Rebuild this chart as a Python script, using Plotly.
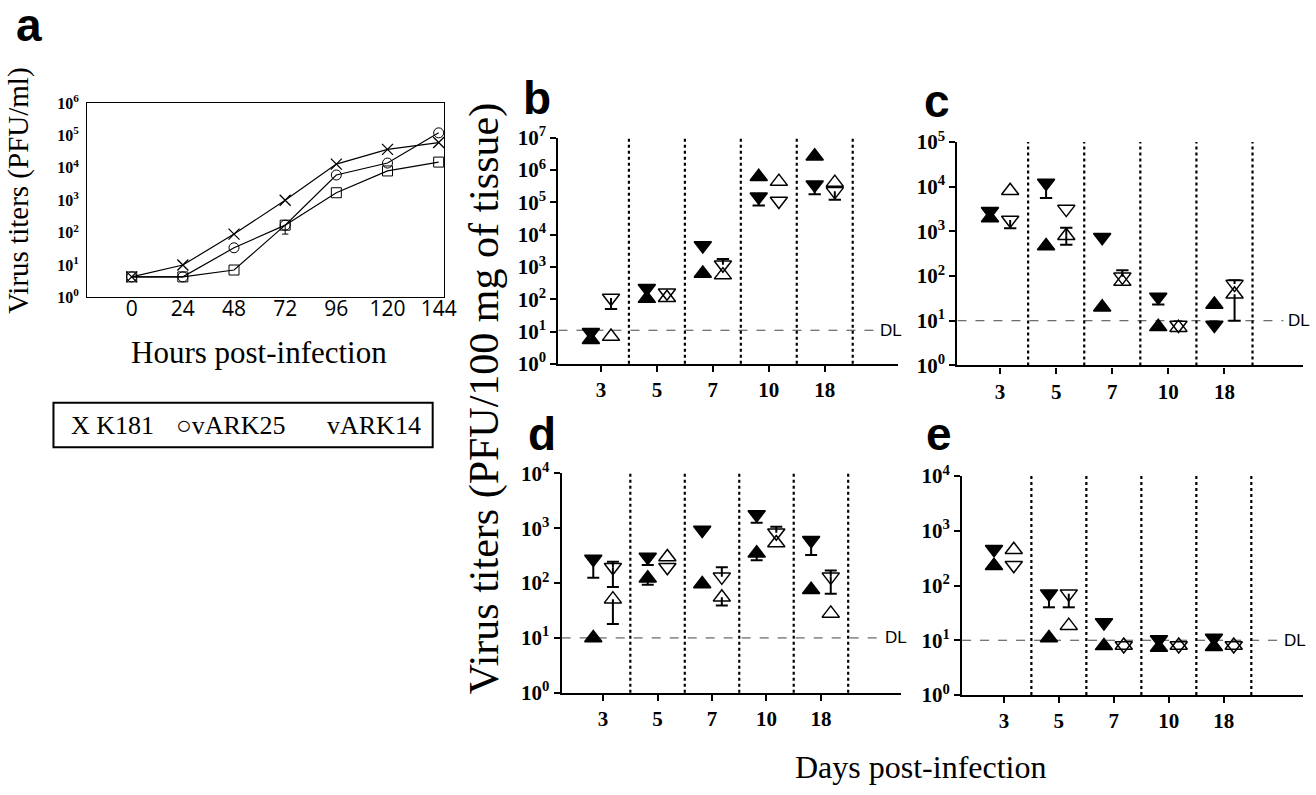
import math
import plotly.graph_objects as go

# ---------------- data ----------------
HOURS = [0, 24, 48, 72, 96, 120, 144]
K181 = [4.3, 10, 90, 1000, 13000, 37000, 60000]
VARK25 = [4.3, 4.3, 34, 170, 6000, 14000, 120000]
VARK14 = [4.3, 4.3, 7, 170, 1700, 8000, 15000]
VARK14_LO = [None, None, None, 90, None, None, None]

DAYS = ["3", "5", "7", "10", "18"]

# panel b (filled = left group, open = right group)
B_UP_F = [5.6, 105, 630, 620000, 2700000]
B_DN_F = [9.5, 220, 4600, 150000, 350000]
B_UP_O = [7, 112, 560, 440000, 410000]
B_DN_O = [110, 160, 1175, 110000, 220000]
B_DN_F_LO = [None, None, None, 80000, 180000]
B_DN_O_LO = [50, None, None, None, 120000]
B_DN_O_HI = [None, None, 1780, None, None]
B_DL = 11

# panel c
C_UP_F = [2000, 470, 20, 7.3, 23]
C_DN_F = [2800, 12000, 740, 34, 8]
C_UP_O = [8100, 800, 75, 7, 39]
C_DN_O = [1800, 3150, 96, 8, 66]
C_DN_F_LO = [None, 5600, None, 23, None]
C_UP_O_LO = [None, 500, None, None, 10]
C_UP_O_HI = [None, 1200, None, None, None]
C_DN_O_LO = [1170, None, None, None, None]
C_DN_O_HI = [None, None, 135, None, 81]
C_DL = 10

# panel d
D_UP_F = [10, 123, 96, 350, 76]
D_DN_F = [275, 300, 930, 1780, 605]
D_UP_O = [51, 300, 55, 540, 28]
D_DN_O = [195, 195, 130, 830, 130]
D_DN_F_LO = [125, 215, None, 1260, 325]
D_UP_F_LO = [None, 93, None, 260, None]
D_UP_O_LO = [18, None, 39, None, None]
D_DN_O_LO = [85, None, None, None, 64]
D_DN_O_HI = [245, None, 195, 1070, 170]
D_DL = 10

# panel e
E_UP_F = [230, 11, 7.9, 7.4, 7.6]
E_DN_F = [460, 71, 21, 10.3, 11]
E_UP_O = [450, 18.5, 8, 8, 8]
E_DN_O = [235, 71, 8, 8, 8]
E_DN_F_LO = [None, 40, None, None, None]
E_DN_O_LO = [None, 40, None, None, None]
E_DL = 10

# ---------------- layout helpers ----------------
W, H = 1316, 795


def xd(a, b):
    return [a / W, min(b / W, 1.0)]


def yd(top, bottom):
    return [1 - bottom / H, 1 - top / H]


SERIF = "Liberation Serif"
SANS = "Liberation Sans"
OFF = 0.18
CAP = 0.11

fig = go.Figure()

# ---------------- panel a ----------------
line_style = dict(color="black", width=1.2)
fig.add_trace(go.Scatter(x=HOURS, y=K181, mode="lines+markers", line=line_style,
                         marker=dict(symbol="x-thin-open", size=11, color="black",
                                     line=dict(color="black", width=1.3)),
                         xaxis="x", yaxis="y", showlegend=False, cliponaxis=False))
fig.add_trace(go.Scatter(x=HOURS, y=VARK25, mode="lines+markers", line=line_style,
                         marker=dict(symbol="circle-open", size=10, color="black",
                                     line=dict(color="black", width=1)),
                         xaxis="x", yaxis="y", showlegend=False, cliponaxis=False))
fig.add_trace(go.Scatter(x=HOURS, y=VARK14, mode="lines+markers", line=line_style,
                         marker=dict(symbol="square-open", size=10, color="black",
                                     line=dict(color="black", width=1)),
                         xaxis="x", yaxis="y", showlegend=False, cliponaxis=False))
ex, ey = [], []
for h, v, lo in zip(HOURS, VARK14, VARK14_LO):
    if lo is not None:
        ex += [h, h, None, h - 1.5, h + 1.5, None]
        ey += [v, lo, None, lo, lo, None]
fig.add_trace(go.Scatter(x=ex, y=ey, mode="lines", line=dict(color="black", width=1),
                         xaxis="x", yaxis="y", showlegend=False, hoverinfo="skip"))


# ---------------- panels b-e ----------------
def add_panel(n, up_f, dn_f, up_o, dn_o, bars, dl, dl_end):
    xa, ya = f"x{n}", f"y{n}"
    idx = list(range(len(DAYS)))
    specs = [
        (up_f, -OFF, "triangle-up"),
        (dn_f, -OFF, "triangle-down"),
        (up_o, OFF, "triangle-up-open"),
        (dn_o, OFF, "triangle-down-open"),
    ]
    fig.add_trace(go.Scatter(x=[-0.76, dl_end], y=[dl, dl], mode="lines",
                             line=dict(color="#444", width=1, dash="dash"),
                             xaxis=xa, yaxis=ya, showlegend=False, hoverinfo="skip",
                             cliponaxis=False))
    for vals, off, sym in specs:
        fig.add_trace(go.Scatter(
            x=[i + off for i in idx], y=vals, mode="markers",
            marker=dict(symbol=sym, size=15, color="black",
                        line=dict(color="black", width=1.5)),
            xaxis=xa, yaxis=ya, showlegend=False, cliponaxis=False))
    bx, by = [], []
    for vals, bound, off in bars:
        for i, (v, b) in enumerate(zip(vals, bound)):
            if b is None:
                continue
            x = i + off
            bx += [x, x, None, x - CAP, x + CAP, None]
            by += [v, b, None, b, b, None]
    fig.add_trace(go.Scatter(x=bx, y=by, mode="lines", line=dict(color="black", width=2),
                             xaxis=xa, yaxis=ya, showlegend=False, hoverinfo="skip",
                             cliponaxis=False))
    for k in range(len(DAYS)):
        fig.add_shape(type="line", xref=xa, yref=f"{ya} domain", x0=k + 0.5, x1=k + 0.5,
                      y0=0, y1=1, line=dict(color="black", width=2.2, dash="dot"))
    fig.add_annotation(x=dl_end, y=math.log10(dl), xref=xa, yref=ya, text="DL",
                       showarrow=False, xanchor="left", xshift=3,
                       font=dict(family=SANS, size=17, color="black"))


add_panel(2, B_UP_F, B_DN_F, B_UP_O, B_DN_O,
          [(B_DN_F, B_DN_F_LO, -OFF), (B_DN_O, B_DN_O_LO, OFF), (B_DN_O, B_DN_O_HI, OFF)],
          B_DL, 4.9)
add_panel(3, C_UP_F, C_DN_F, C_UP_O, C_DN_O,
          [(C_DN_F, C_DN_F_LO, -OFF), (C_UP_O, C_UP_O_LO, OFF), (C_UP_O, C_UP_O_HI, OFF),
           (C_DN_O, C_DN_O_LO, OFF), (C_DN_O, C_DN_O_HI, OFF)],
          C_DL, 5.05)
add_panel(4, D_UP_F, D_DN_F, D_UP_O, D_DN_O,
          [(D_DN_F, D_DN_F_LO, -OFF), (D_UP_F, D_UP_F_LO, -OFF), (D_UP_O, D_UP_O_LO, OFF),
           (D_DN_O, D_DN_O_LO, OFF), (D_DN_O, D_DN_O_HI, OFF)],
          D_DL, 5.08)
add_panel(5, E_UP_F, E_DN_F, E_UP_O, E_DN_O,
          [(E_DN_F, E_DN_F_LO, -OFF), (E_DN_O, E_DN_O_LO, OFF)],
          E_DL, 5.0)


def pow_ticks(nmax):
    return [10 ** k for k in range(nmax + 1)], [f"10<sup>{k}</sup>" for k in range(nmax + 1)]


tick_font = dict(family=SERIF, size=21, color="black", weight="bold")


def panel_axes(n, xdom, ydom, nmax, xmax):
    tv, tt = pow_ticks(nmax)
    xaxis = dict(domain=xdom, anchor=f"y{n}", range=[-0.76, xmax], tickvals=list(range(len(DAYS))),
                 ticktext=DAYS, showgrid=False, zeroline=False, showline=True, linecolor="black",
                 linewidth=2.2, ticks="outside", ticklen=6, tickwidth=2, tickcolor="black",
                 tickfont=tick_font)
    yaxis = dict(domain=ydom, anchor=f"x{n}", type="log", range=[0, nmax], tickvals=tv, ticktext=tt,
                 showgrid=False, zeroline=False, showline=True, linecolor="black", linewidth=2.2,
                 ticks="outside", ticklen=6, tickwidth=2, tickcolor="black", tickfont=tick_font)
    return xaxis, yaxis


xa2, ya2 = panel_axes(2, xd(564, 907), yd(128, 361.7), 7, 5.31)
xa3, ya3 = panel_axes(3, xd(967, 1316), yd(132.3, 363.3), 5, 5.40)
xa4, ya4 = panel_axes(4, xd(567.3, 910), yd(475, 701.7), 4, 5.47)
xa5, ya5 = panel_axes(5, xd(971.7, 1316), yd(477.7, 704), 4, 5.44)

tva, tta = pow_ticks(6)
fig.update_layout(
    width=W, height=H, margin=dict(l=0, r=0, t=0, b=0),
    paper_bgcolor="white", plot_bgcolor="white",
    xaxis=dict(domain=xd(88, 448), anchor="y", range=[-20.9, 146.3], tickvals=HOURS,
               ticktext=[str(h) for h in HOURS], showgrid=False, zeroline=False, showline=True,
               mirror=True, linecolor="black", linewidth=1, ticks="", ticklabelstandoff=-8,
               tickfont=dict(family="Open Sans", size=21, color="black")),
    yaxis=dict(domain=yd(92, 293), anchor="x", type="log", range=[0, 6], tickvals=tva, ticktext=tta,
               showgrid=False, zeroline=False, showline=True, mirror=True, linecolor="black",
               linewidth=1, ticks="", ticklabelstandoff=4,
               tickfont=dict(family=SERIF, size=16, color="black", weight="bold")),
    xaxis2=xa2, yaxis2=ya2, xaxis3=xa3, yaxis3=ya3,
    xaxis4=xa4, yaxis4=ya4, xaxis5=xa5, yaxis5=ya5,
)


def px_ann(x, y, text, size, family=SERIF, angle=0, xanchor="center", yanchor="middle", weight="normal"):
    fig.add_annotation(x=x / W, y=1 - y / H, xref="paper", yref="paper", text=text, showarrow=False,
                       textangle=angle, xanchor=xanchor, yanchor=yanchor,
                       font=dict(family=family, size=size, color="black", weight=weight))


# titles
px_ann(18, 183, "Virus titers (PFU/ml)", 29, angle=-90)
px_ann(262, 350, "Hours post-infection", 31)
px_ann(490, 398, "Virus titers (PFU/100 mg of tissue)", 42, angle=-90)
px_ann(930, 778, "Days post-infection", 32)

# panel letters
px_ann(14, 40, "a", 46, family=SANS, xanchor="left", yanchor="bottom", weight="bold")
px_ann(526, 116, "b", 46, family=SANS, xanchor="left", yanchor="bottom", weight="bold")
px_ann(931, 119, "c", 46, family=SANS, xanchor="left", yanchor="bottom", weight="bold")
px_ann(531, 463, "d", 46, family=SANS, xanchor="left", yanchor="bottom", weight="bold")
px_ann(933, 463, "e", 46, family=SANS, xanchor="left", yanchor="bottom", weight="bold")

# legend box for panel a
fig.add_shape(type="rect", xref="paper", yref="paper", x0=54 / W, x1=437 / W,
              y0=1 - 448 / H, y1=1 - 402 / H, line=dict(color="black", width=2))
px_ann(70, 425, "X K181", 26, xanchor="left")
px_ann(176, 425, "○vARK25", 26, xanchor="left")
px_ann(328, 425, "vARK14", 26, xanchor="left")

fig.write_html("out.html", config={"displayModeBar": False},
               post_script="document.body.style.margin='0px';")
